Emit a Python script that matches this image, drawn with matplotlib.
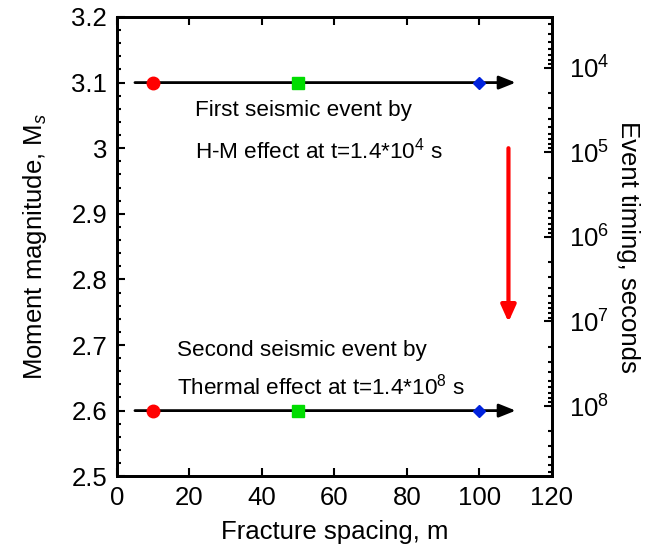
import matplotlib
matplotlib.use('Agg')
import matplotlib.pyplot as plt
import numpy as np
from matplotlib.ticker import MultipleLocator, LogLocator, NullFormatter

plt.rcParams['font.family'] = ['Liberation Sans', 'DejaVu Sans']
plt.rcParams['mathtext.fontset'] = 'custom'
plt.rcParams['mathtext.rm'] = 'Liberation Sans'
plt.rcParams['mathtext.it'] = 'Liberation Sans:italic'

# data
spacing = [10, 50, 100]
mag_first = [3.1, 3.1, 3.1]
mag_second = [2.6, 2.6, 2.6]
marker_colors = ['#ff0000', '#00dd00', '#0022dd']
marker_shapes = ['o', 's', 'D']
marker_sizes = [9, 9, 6.5]
arrow_x = [5, 110]
red_arrow_x = 108
red_arrow_y = [3.0, 2.735]
note_first = ['First seismic event by', 'H-M effect at t=1.4*10$^{4}$ s']
note_second = ['Second seismic event by', 'Thermal effect at t=1.4*10$^{8}$ s']
time_lim = [10**8.83, 10**3.4]

fig = plt.figure(figsize=(6.49, 5.48), dpi=100)
ax = fig.add_axes([0.180, 0.131, 0.6705, 0.838])

# horizontal event arrows
for yv in [mag_first[0], mag_second[0]]:
    ax.annotate('', xy=(arrow_x[1], yv), xytext=(arrow_x[0], yv),
                arrowprops=dict(arrowstyle='-|>,head_length=1.0,head_width=0.4',
                                color='black', lw=2, shrinkA=0, shrinkB=0))

for i in range(len(spacing)):
    ax.plot(spacing[i], mag_first[i], marker=marker_shapes[i], color=marker_colors[i],
            ms=marker_sizes[i], ls='none', zorder=3)
    ax.plot(spacing[i], mag_second[i], marker=marker_shapes[i], color=marker_colors[i],
            ms=marker_sizes[i], ls='none', zorder=3)

# red arrow (time)
ax.annotate('', xy=(red_arrow_x, red_arrow_y[1]), xytext=(red_arrow_x, red_arrow_y[0]),
            arrowprops=dict(arrowstyle='-|>,head_length=1.0,head_width=0.45',
                            color='#ff0000', lw=3, shrinkA=0, shrinkB=0))

ax.text(21.5, 3.058, note_first[0], fontsize=16.2, va='center')
ax.text(21.5, 2.997, note_first[1], fontsize=16.2, va='center')
ax.text(16.5, 2.692, note_second[0], fontsize=16.2, va='center')
ax.text(16.5, 2.636, note_second[1], fontsize=16.2, va='center')

ax.set_xlim(0, 120)
ax.set_ylim(2.5, 3.2)
ax.xaxis.set_major_locator(MultipleLocator(20))
ax.yaxis.set_minor_locator(MultipleLocator(0.02))
ax.set_yticks(np.arange(2.5, 3.21, 0.1))
ax.set_yticklabels(['2.5', '2.6', '2.7', '2.8', '2.9', '3', '3.1', '3.2'])
ax.tick_params(which='both', direction='in', top=True, right=False, labelsize=18.5, width=1.5)
ax.tick_params(which='major', length=6)
ax.tick_params(which='minor', length=3)
ax.tick_params(axis='x', pad=7)
ax.tick_params(axis='y', pad=7)
for s in ax.spines.values():
    s.set_linewidth(2)

ax.set_xlabel('Fracture spacing, m', fontsize=18.5, labelpad=7)
ax.set_ylabel('Moment magnitude, M$_{s}$', fontsize=18.5, labelpad=16)

ax2 = ax.twinx()
ax2.set_yscale('log')
ax2.set_ylim(time_lim[0], time_lim[1])
ax2.yaxis.set_major_locator(LogLocator(base=10, numticks=20))
ax2.yaxis.set_minor_locator(LogLocator(base=10, subs=np.arange(2, 10), numticks=20))
ax2.yaxis.set_minor_formatter(NullFormatter())
ax2.tick_params(which='both', direction='in', labelsize=18.5, width=1.5)
ax2.tick_params(which='major', length=6, pad=12)
ax2.tick_params(which='minor', length=3)
ax2.set_ylabel('Event timing, seconds', fontsize=18.5, rotation=270, labelpad=22)
for s in ax2.spines.values():
    s.set_linewidth(2)

fig.savefig('out.png', dpi=100)
